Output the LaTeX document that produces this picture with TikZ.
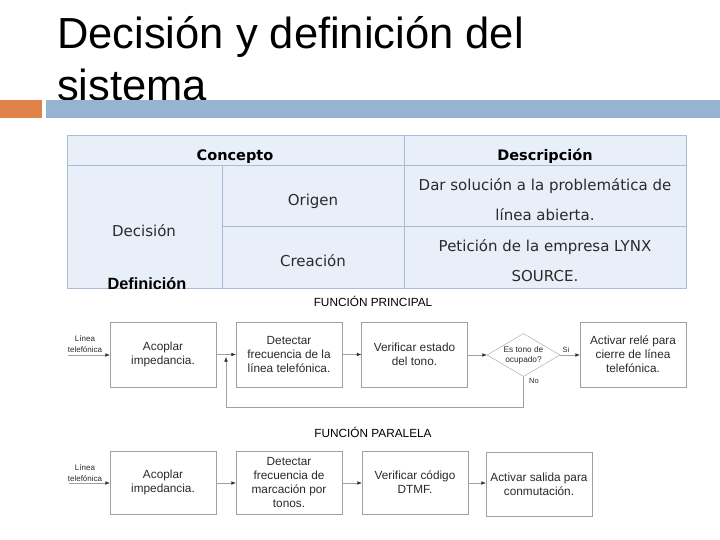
\documentclass[tikz,border=0pt]{standalone}
\usepackage{fontspec}
\setmainfont{Liberation Sans}
\newfontfamily\tabfont{DejaVu Sans}
\usetikzlibrary{shapes.geometric,arrows.meta}
\definecolor{barorange}{HTML}{E0834A}
\definecolor{barblue}{HTML}{95B4D2}
\definecolor{tabfill}{HTML}{E9EFF8}
\definecolor{tabline}{HTML}{A9BDD5}
\definecolor{boxgray}{HTML}{A0A0A0}
\definecolor{txtgray}{HTML}{2A2A2A}
\tikzset{
  cell/.style={font=\tabfont\fontsize{15}{18}\selectfont, text=txtgray, inner sep=0pt,
    text height=12pt, text depth=1pt},
  head/.style={font=\tabfont\bfseries\fontsize{14.5}{18}\selectfont, inner sep=0pt,
    text height=12pt, text depth=1pt},
  block/.style={draw=boxgray, fill=white, minimum width=106pt, minimum height=65pt,
    align=center, inner sep=1pt, text=txtgray, font=\fontsize{11.8}{14}\selectfont},
  tiny/.style={align=center, inner sep=0pt, text=txtgray, font=\fontsize{8}{11}\selectfont},
  arr/.style={draw=boxgray, -{Latex[length=4.5pt,width=3.5pt,color=txtgray]}},
  line/.style={draw=boxgray}
}
\begin{document}
\begin{tikzpicture}[x=1pt,y=-1pt]
\useasboundingbox (0,0) rectangle (720,540);
% title
\node[anchor=base west, inner sep=0pt, font=\fontsize{43.5}{52}\selectfont] (title1) at (57,49) {Decisión y definición del};
\node[anchor=base west, inner sep=0pt, font=\fontsize{43.5}{52}\selectfont] (title2) at (57,101) {sistema};
% bars
\fill[barorange] (0,100) rectangle (42,118);
\fill[barblue] (46,100) rectangle (720,118);
% table
\fill[tabfill] (67,135) rectangle (686,288);
\draw[tabline] (67,135) rectangle (686,288);
\draw[tabline] (67,165) -- (686,165);
\draw[tabline] (404,135) -- (404,288);
\draw[tabline] (222,165) -- (222,288);
\draw[tabline] (222,226) -- (686,226);
\node[head] (concepto) at (235,155) {Concepto};
\node[head] (descripcion) at (545,155) {Descripción};
\node[cell] (origen) at (313,200) {Origen};
\node[cell] (creacion) at (313,261) {Creación};
\node[cell] (decision) at (144,231) {Decisión};
\node[cell] (d1) at (545,185) {Dar solución a la problemática de};
\node[cell] (d2) at (545,215) {línea abierta.};
\node[cell] (d3) at (545,246) {Petición de la empresa LYNX};
\node[cell] (d4) at (545,276) {SOURCE.};
\node[inner sep=0pt, text height=12pt, text depth=1pt, font=\bfseries\fontsize{16.3}{18}\selectfont] (definicion) at (147,284) {Definición};
% funcion principal
\node[inner sep=0pt, font=\fontsize{11.8}{14}\selectfont] (fprin) at (373,301) {FUNCIÓN PRINCIPAL};
\node[tiny] (lin1) at (85,344) {Línea\\telefónica};
\coordinate (in1) at (68,355);
\node[block] (acop1) at (163,354.5) {Acoplar\\impedancia.};
\node[block] (det1) at (289,354.5) {Detectar\\frecuencia de la\\línea telefónica.};
\node[block] (ver1) at (414.5,354.5) {Verificar estado\\del tono.};
\node[draw=boxgray, shape=diamond, aspect=1.7, minimum width=73pt, minimum height=43pt,
  inner sep=0pt, tiny, font=\fontsize{8.3}{10}\selectfont] (ocup) at (523.5,355) {Es tono de\\ocupado?};
\node[block] (rele) at (633,354.5) {Activar relé para\\cierre de línea\\telefónica.};
\draw[arr] (in1) -- (acop1.west |- in1);
\draw[arr] (acop1) -- (det1);
\draw[arr] (det1) -- (ver1);
\draw[arr] (ver1.east |- ocup) -- (ocup);
\draw[arr] (ocup) -- (rele.west |- ocup);
\node[tiny, font=\fontsize{7.5}{9}\selectfont] (si) at (566,350) {Si};
\node[tiny, font=\fontsize{7.5}{9}\selectfont] (no) at (534,381) {No};
% retorno
\coordinate (fb) at (226,407);
\draw[line] (ocup.south) |- (fb);
\draw[arr] (fb) -- (226,357);
% funcion paralela
\node[inner sep=0pt, font=\fontsize{11.8}{14}\selectfont] (fpar) at (373,432) {FUNCIÓN PARALELA};
\node[tiny] (lin2) at (85,473) {Línea\\telefónica};
\coordinate (in2) at (69,483);
\node[block, minimum height=63pt] (acop2) at (163,482.5) {Acoplar\\impedancia.};
\node[block, minimum height=63pt] (det2) at (289,482.5) {Detectar\\frecuencia de\\marcación por\\tonos.};
\node[block, minimum height=63pt] (ver2) at (415,482.5) {Verificar código\\DTMF.};
\node[block, minimum height=64pt] (sal2) at (539,484) {Activar salida para\\conmutación.};
\draw[arr] (in2) -- (acop2.west |- in2);
\draw[arr] (acop2.east |- in2) -- (det2.west |- in2);
\draw[arr] (det2.east |- in2) -- (ver2.west |- in2);
\draw[arr] (ver2.east |- in2) -- (sal2.west |- in2);
\end{tikzpicture}
\end{document}
